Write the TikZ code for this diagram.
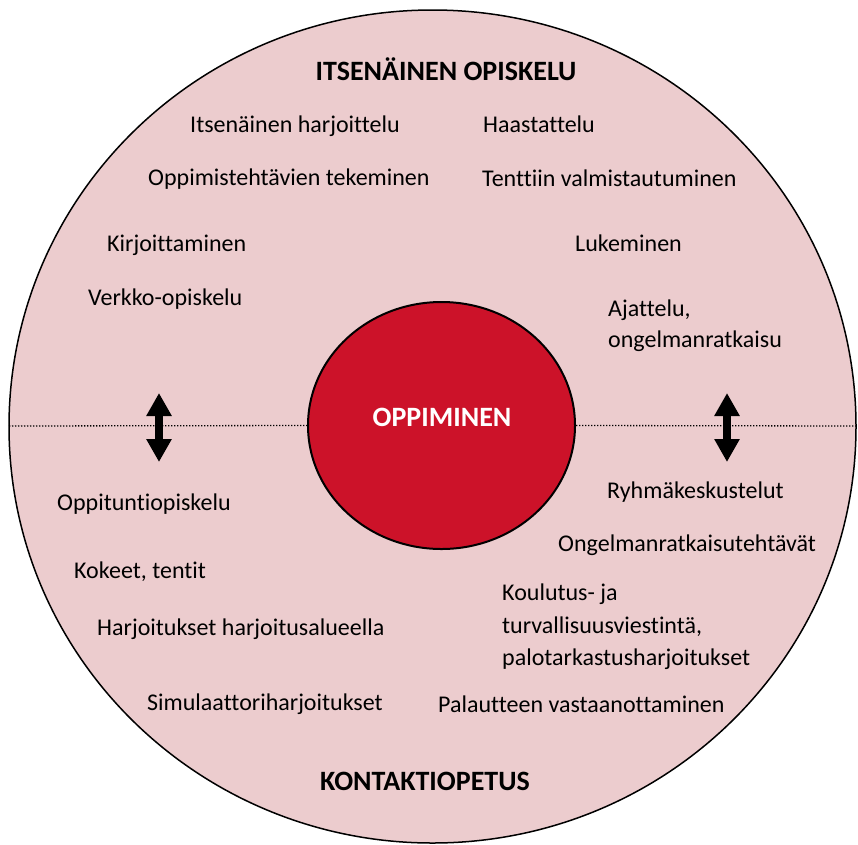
\documentclass[tikz,border=0pt]{standalone}
\usepackage{fontspec}
\setmainfont{Carlito}[Ligatures=NoCommon]
\usetikzlibrary{arrows.meta,shapes.geometric}
\definecolor{outerpink}{RGB}{236,204,206}
\definecolor{innerred}{RGB}{204,18,41}
\begin{document}
\begin{tikzpicture}[x=1pt,y=-1pt,
  item/.style={anchor=mid west,inner sep=0pt,font=\fontsize{24}{30}\selectfont,text=black},
  head/.style={anchor=mid,inner sep=0pt,font=\fontsize{28}{32}\selectfont\bfseries,text=black},
  dotline/.style={line width=1.3pt,dash pattern=on 1.3pt off 1.7pt},
  bigarrow/.style={line width=8pt,{Triangle[width=24pt,length=23pt]}-{Triangle[width=24pt,length=23pt]}}]
\useasboundingbox (0,0) rectangle (858,844);
% outer circle
\node (outer) [ellipse,draw=black,line width=1.5pt,fill=outerpink,minimum width=847pt,minimum height=833pt,inner sep=0pt] at (432.5,426.5) {};
% dotted divider
\coordinate (dl) at (9,426);
\coordinate (dr) at (858,426);
% inner circle
\node (inner) [ellipse,draw=black,line width=2pt,fill=innerred,minimum width=267pt,minimum height=247pt,inner sep=0pt] at (441.5,425.5) {};
\draw[dotline] (dl) -- (inner.west);
\draw[dotline] (inner.east) -- (dr);
\node (opp) [anchor=mid,inner sep=0pt,font=\fontsize{28}{32}\selectfont\bfseries,text=white] at (442,424) {OPPIMINEN};
% arrows
\coordinate (la1) at (159,393);
\coordinate (la2) at (159,462);
\coordinate (ra1) at (727,393);
\coordinate (ra2) at (727,462);
\draw[bigarrow] (la1) -- (la2);
\draw[bigarrow] (ra1) -- (ra2);
% headings
\node (h1) [head] at (446,78) {ITSENÄINEN OPISKELU};
\node (h2) [head] at (425,788) {KONTAKTIOPETUS};
% upper items
\node (t1) [item] at (190,130) {Itsenäinen harjoittelu};
\node (t2) [item] at (148,183) {Oppimistehtävien tekeminen};
\node (t3) [item] at (107,249) {Kirjoittaminen};
\node (t4) [item] at (88,303) {Verkko-opiskelu};
\node (t5) [item] at (483,130) {Haastattelu};
\node (t6) [item] at (482,184) {Tenttiin valmistautuminen};
\node (t7) [item] at (575,249) {Lukeminen};
\node (t8a) [item] at (608,314) {Ajattelu,};
\node (t8b) [item] at (608,345) {ongelmanratkaisu};
% lower items
\node (b1) [item] at (57,508) {Oppituntiopiskelu};
\node (b2) [item] at (74,576) {Kokeet, tentit};
\node (b3) [item] at (97,633) {Harjoitukset harjoitusalueella};
\node (b4) [item] at (147,708) {Simulaattoriharjoitukset};
\node (b5) [item] at (607,496) {Ryhmäkeskustelut};
\node (b6) [item] at (558,549) {Ongelmanratkaisutehtävät};
\node (b7a) [item] at (502,598) {Koulutus- ja};
\node (b7b) [item] at (502,631) {turvallisuusviestintä,};
\node (b7c) [item] at (502,663) {palotarkastusharjoitukset};
\node (b8) [item] at (438,710) {Palautteen vastaanottaminen};
\end{tikzpicture}
\end{document}
